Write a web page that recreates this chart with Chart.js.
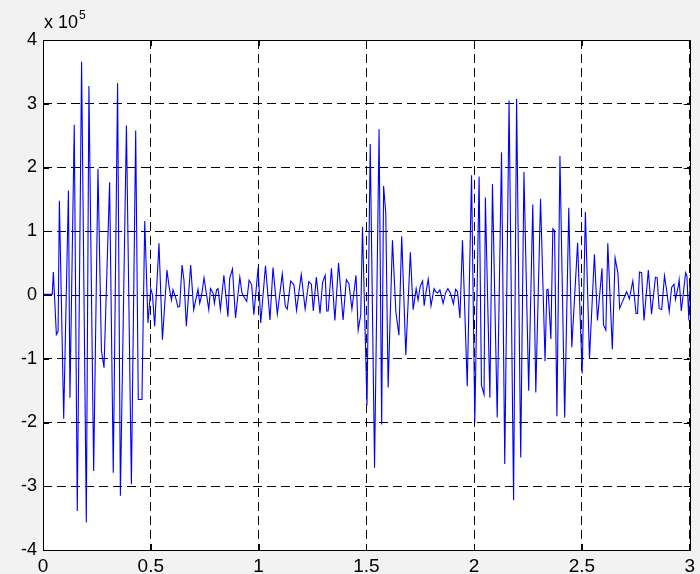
<!DOCTYPE html>
<html>
<head>
<meta charset="utf-8">
<script src="https://cdn.jsdelivr.net/npm/chart.js"></script>
<style>
  html, body { margin: 0; padding: 0; background: #f2f2f2; }
  canvas { display: block; }
</style>
</head>
<body>
<canvas id="signalChart" width="700" height="574"></canvas>
<script>
// time (s) of each vertex of the trace
const times = [
  0.000, 0.043, 0.048, 0.062, 0.070, 0.076, 0.096, 0.118, 0.125, 0.145,
  0.159, 0.179, 0.201, 0.213, 0.235, 0.255, 0.271, 0.283, 0.309, 0.326,
  0.346, 0.359, 0.387, 0.410, 0.430, 0.442, 0.459, 0.472, 0.487, 0.500,
  0.508, 0.518, 0.538, 0.554, 0.575, 0.585, 0.596, 0.603, 0.616, 0.626,
  0.634, 0.645, 0.654, 0.665, 0.685, 0.699, 0.719, 0.727, 0.736, 0.747,
  0.769, 0.777, 0.789, 0.795, 0.805, 0.812, 0.823, 0.839, 0.858, 0.866,
  0.879, 0.893, 0.913, 0.923, 0.936, 0.945, 0.956, 0.968, 0.978, 0.998,
  1.010, 1.032, 1.053, 1.067, 1.087, 1.110, 1.124, 1.133, 1.149, 1.164,
  1.176, 1.198, 1.216, 1.233, 1.245, 1.254, 1.268, 1.285, 1.297, 1.309,
  1.316, 1.323, 1.338, 1.354, 1.371, 1.392, 1.407, 1.419, 1.433, 1.452,
  1.462, 1.474, 1.482, 1.503, 1.518, 1.538, 1.559, 1.571, 1.580, 1.590,
  1.601, 1.621, 1.637, 1.651, 1.664, 1.683, 1.704, 1.717, 1.731, 1.740,
  1.750, 1.761, 1.768, 1.776, 1.787, 1.800, 1.814, 1.822, 1.831, 1.841,
  1.856, 1.867, 1.878, 1.890, 1.904, 1.914, 1.923, 1.934, 1.946, 1.968,
  1.988, 2.003, 2.023, 2.034, 2.046, 2.052, 2.073, 2.085, 2.107, 2.127,
  2.142, 2.162, 2.183, 2.197, 2.216, 2.231, 2.253, 2.272, 2.286, 2.308,
  2.329, 2.337, 2.343, 2.356, 2.365, 2.373, 2.384, 2.398, 2.420, 2.439,
  2.453, 2.480, 2.501, 2.516, 2.535, 2.558, 2.572, 2.593, 2.600, 2.611,
  2.620, 2.641, 2.654, 2.667, 2.675, 2.691, 2.707, 2.720, 2.736, 2.751,
  2.758, 2.767, 2.777, 2.788, 2.808, 2.823, 2.841, 2.849, 2.858, 2.870,
  2.883, 2.893, 2.905, 2.916, 2.927, 2.934, 2.947, 2.951, 2.961, 2.981,
  2.987, 2.996, 3.000
];

// amplitude at each vertex, in units of 10^5
const amplitude = [
  0.01, 0.01, 0.36, -0.62, -0.57, 1.48, -1.94, 1.64, -1.61, 2.67,
  -3.39, 3.66, -3.57, 3.28, -2.76, 1.98, -0.87, -1.14, 1.77, -2.79,
  3.32, -3.15, 2.66, -2.97, 2.58, -1.64, -1.64, 1.16, -0.44, 0.10,
  0.00, -0.49, 0.81, -0.70, 0.39, 0.13, -0.08, 0.08, -0.05, -0.19,
  -0.18, 0.47, 0.23, -0.49, 0.47, -0.23, 0.09, -0.13, 0.00, 0.27,
  -0.23, 0.10, 0.03, -0.13, 0.08, 0.10, -0.23, 0.31, -0.34, 0.26,
  0.41, -0.36, 0.28, 0.03, -0.05, -0.10, 0.23, 0.16, -0.31, 0.43,
  -0.44, 0.46, -0.39, 0.43, -0.30, 0.33, -0.18, -0.22, 0.22, 0.16,
  -0.24, 0.32, -0.22, 0.21, 0.17, -0.25, 0.28, -0.29, 0.20, 0.31,
  -0.25, -0.25, 0.42, -0.40, 0.50, -0.39, 0.24, 0.18, -0.22, 0.31,
  -0.55, -0.31, 1.07, -1.73, 2.37, -2.71, 2.60, -2.03, 1.71, 1.28,
  -1.45, 0.86, -0.27, -0.63, 0.92, -0.94, 0.67, -0.23, 0.10, -0.08,
  0.14, 0.22, -0.17, 0.03, 0.25, -0.17, 0.10, 0.05, 0.03, 0.08,
  -0.13, 0.03, 0.10, 0.03, -0.14, 0.09, 0.05, -0.36, 0.86, -1.43,
  1.88, -2.00, 1.86, -1.42, -1.56, 1.53, -1.61, 1.74, -1.92, 2.24,
  -2.65, 3.05, -3.22, 3.08, -2.55, 1.93, -1.50, 1.42, -1.53, 1.51,
  -1.04, 0.08, 0.09, -0.69, 1.04, 1.01, -1.90, 2.18, -1.92, 1.37,
  -0.82, 0.82, -1.23, 1.30, -1.00, 0.64, -0.40, 0.42, -0.47, -0.55,
  0.81, -0.85, 0.58, 0.34, -0.21, -0.08, 0.05, -0.06, 0.22, -0.29,
  -0.29, 0.36, 0.35, -0.40, 0.39, -0.30, 0.28, 0.27, -0.21, -0.23,
  0.30, 0.07, -0.26, 0.12, 0.17, -0.07, 0.14, 0.24, -0.25, 0.35,
  0.30, -0.40, 0.18
];

const xTicks = { min: 0, max: 3, step: 0.5 };
const yTicks = { min: -4, max: 4, step: 1 };
const yExponent = "5";

const FONT = "Arial, 'Liberation Sans', sans-serif";

let points = times.map(function (t, i) {
  return { x: t, y: amplitude[i] };
});

// white plot area, inward ticks, box and the "x 10^5" multiplier like matlab
const matlabAxes = {
  id: "matlabAxes",
  beforeDraw: function (chart) {
    const ctx = chart.ctx;
    const a = chart.chartArea;
    ctx.save();
    ctx.fillStyle = "#ffffff";
    ctx.fillRect(a.left, a.top, a.right - a.left, a.bottom - a.top);
    ctx.restore();
  },
  afterDatasetsDraw: function (chart) {
    const ctx = chart.ctx;
    const a = chart.chartArea;
    const sx = chart.scales.x;
    const sy = chart.scales.y;
    const al = function (p) { return Math.round(p) + 0.5; };
    const tickLen = 6;
    ctx.save();
    ctx.strokeStyle = "#000000";
    ctx.lineWidth = 1;
    ctx.beginPath();
    sx.ticks.forEach(function (t) {
      const px = al(sx.getPixelForValue(t.value));
      ctx.moveTo(px, a.bottom);
      ctx.lineTo(px, a.bottom - tickLen);
      ctx.moveTo(px, a.top);
      ctx.lineTo(px, a.top + tickLen);
    });
    sy.ticks.forEach(function (t) {
      const py = al(sy.getPixelForValue(t.value));
      ctx.moveTo(a.left, py);
      ctx.lineTo(a.left + tickLen, py);
      ctx.moveTo(a.right, py);
      ctx.lineTo(a.right - tickLen, py);
    });
    ctx.stroke();
    ctx.strokeRect(al(a.left), al(a.top), Math.round(a.right - a.left), Math.round(a.bottom - a.top));

    ctx.fillStyle = "#000000";
    ctx.textBaseline = "alphabetic";
    ctx.font = "18px " + FONT;
    ctx.fillText("x 10", a.left + 1, 28);
    const w = ctx.measureText("x 10").width;
    ctx.font = "12px " + FONT;
    ctx.fillText(yExponent, a.left + 2 + w, 19);
    ctx.restore();
  }
};

var ctx = document.getElementById("signalChart").getContext("2d");
var myChart = new Chart(ctx, {
  type: "line",
  data: {
    datasets: [
      {
        data: points,
        borderColor: "#0000ff",
        borderWidth: 1.1,
        pointRadius: 0,
        tension: 0,
        fill: false
      }
    ]
  },
  options: {
    responsive: false,
    animation: false,
    layout: {
      padding: { top: 40, right: 8, left: 0, bottom: 0 }
    },
    plugins: {
      legend: { display: false },
      tooltip: { enabled: false }
    },
    scales: {
      x: {
        type: "linear",
        min: xTicks.min,
        max: xTicks.max,
        afterFit: function (scale) { scale.height = 24; },
        ticks: {
          stepSize: xTicks.step,
          autoSkip: false,
          maxRotation: 0,
          padding: 5,
          color: "#000000",
          font: { family: FONT, size: 19 },
          callback: function (value) { return String(value); }
        },
        grid: { color: "#000000", lineWidth: 1, drawTicks: false },
        border: { display: false, dash: [9, 5] }
      },
      y: {
        type: "linear",
        min: yTicks.min,
        max: yTicks.max,
        afterFit: function (scale) { scale.width = 43; },
        ticks: {
          stepSize: yTicks.step,
          padding: 6,
          color: "#000000",
          font: { family: FONT, size: 18 },
          callback: function (value) { return String(value); }
        },
        grid: { color: "#000000", lineWidth: 1, drawTicks: false },
        border: { display: false, dash: [9, 5] }
      }
    }
  },
  plugins: [matlabAxes]
});
</script>
</body>
</html>
